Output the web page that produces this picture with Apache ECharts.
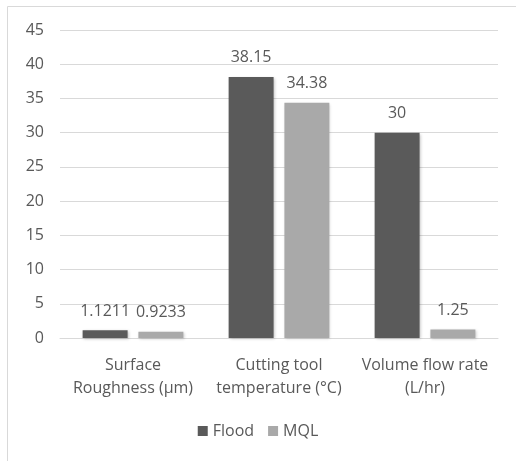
<!DOCTYPE html>
<html><head><meta charset="utf-8">
<script src="https://cdn.jsdelivr.net/npm/echarts@6/dist/echarts.min.js"></script>
<style>html,body{margin:0;padding:0;background:#fff}#c{width:516px;height:461px}</style>
</head><body><div id="c"></div>
<script>
var categories = ['Surface\nRoughness (µm)', 'Cutting tool\ntemperature (°C)', 'Volume flow rate\n(L/hr)'];
var flood = [1.1211, 38.15, 30];
var mql = [0.9233, 34.38, 1.25];
var yTicks = [0, 5, 10, 15, 20, 25, 30, 35, 40, 45];

var chart = echarts.init(document.getElementById('c'));
var font = 'Open Sans';
var labelCfg = {show: true, position: 'top', color: '#595959', fontSize: 16, fontFamily: font, distance: 11,
  formatter: function(p){ return String(p.value); }};
chart.setOption({
  animation: false,
  graphic: [{type: 'rect', shape: {x: 7.5, y: 6.5, width: 600, height: 600}, style: {fill: 'none', stroke: '#d9d9d9', lineWidth: 1}, silent: true}],
  grid: {left: 60, right: 18, top: 30, bottom: 123, containLabel: false},
  legend: {bottom: 17, left: 'center', itemWidth: 10, itemHeight: 10, itemGap: 14, icon: 'rect',
    textStyle: {color: '#595959', fontSize: 16, fontFamily: font}, data: ['Flood', 'MQL']},
  xAxis: {type: 'category', data: categories,
    axisLine: {lineStyle: {color: '#d9d9d9'}}, axisTick: {show: false},
    axisLabel: {color: '#595959', fontSize: 16, fontFamily: font, lineHeight: 23, margin: 16, interval: 0}},
  yAxis: {type: 'value', min: yTicks[0], max: yTicks[yTicks.length - 1], interval: 5,
    axisLine: {show: false}, axisTick: {show: false},
    axisLabel: {color: '#595959', fontSize: 16, fontFamily: font, margin: 16},
    splitLine: {lineStyle: {color: '#d9d9d9'}}},
  series: [
    {name: 'Flood', type: 'bar', data: flood, barGap: '24%', barCategoryGap: '31%',
      itemStyle: {color: '#5a5a5a', shadowColor: 'rgba(0,0,0,0.25)', shadowBlur: 3, shadowOffsetX: 1, shadowOffsetY: 1},
      label: labelCfg},
    {name: 'MQL', type: 'bar', data: mql,
      itemStyle: {color: '#a9a9a9', shadowColor: 'rgba(0,0,0,0.2)', shadowBlur: 3, shadowOffsetX: 1, shadowOffsetY: 1},
      label: labelCfg}
  ]
});
</script></body></html>
